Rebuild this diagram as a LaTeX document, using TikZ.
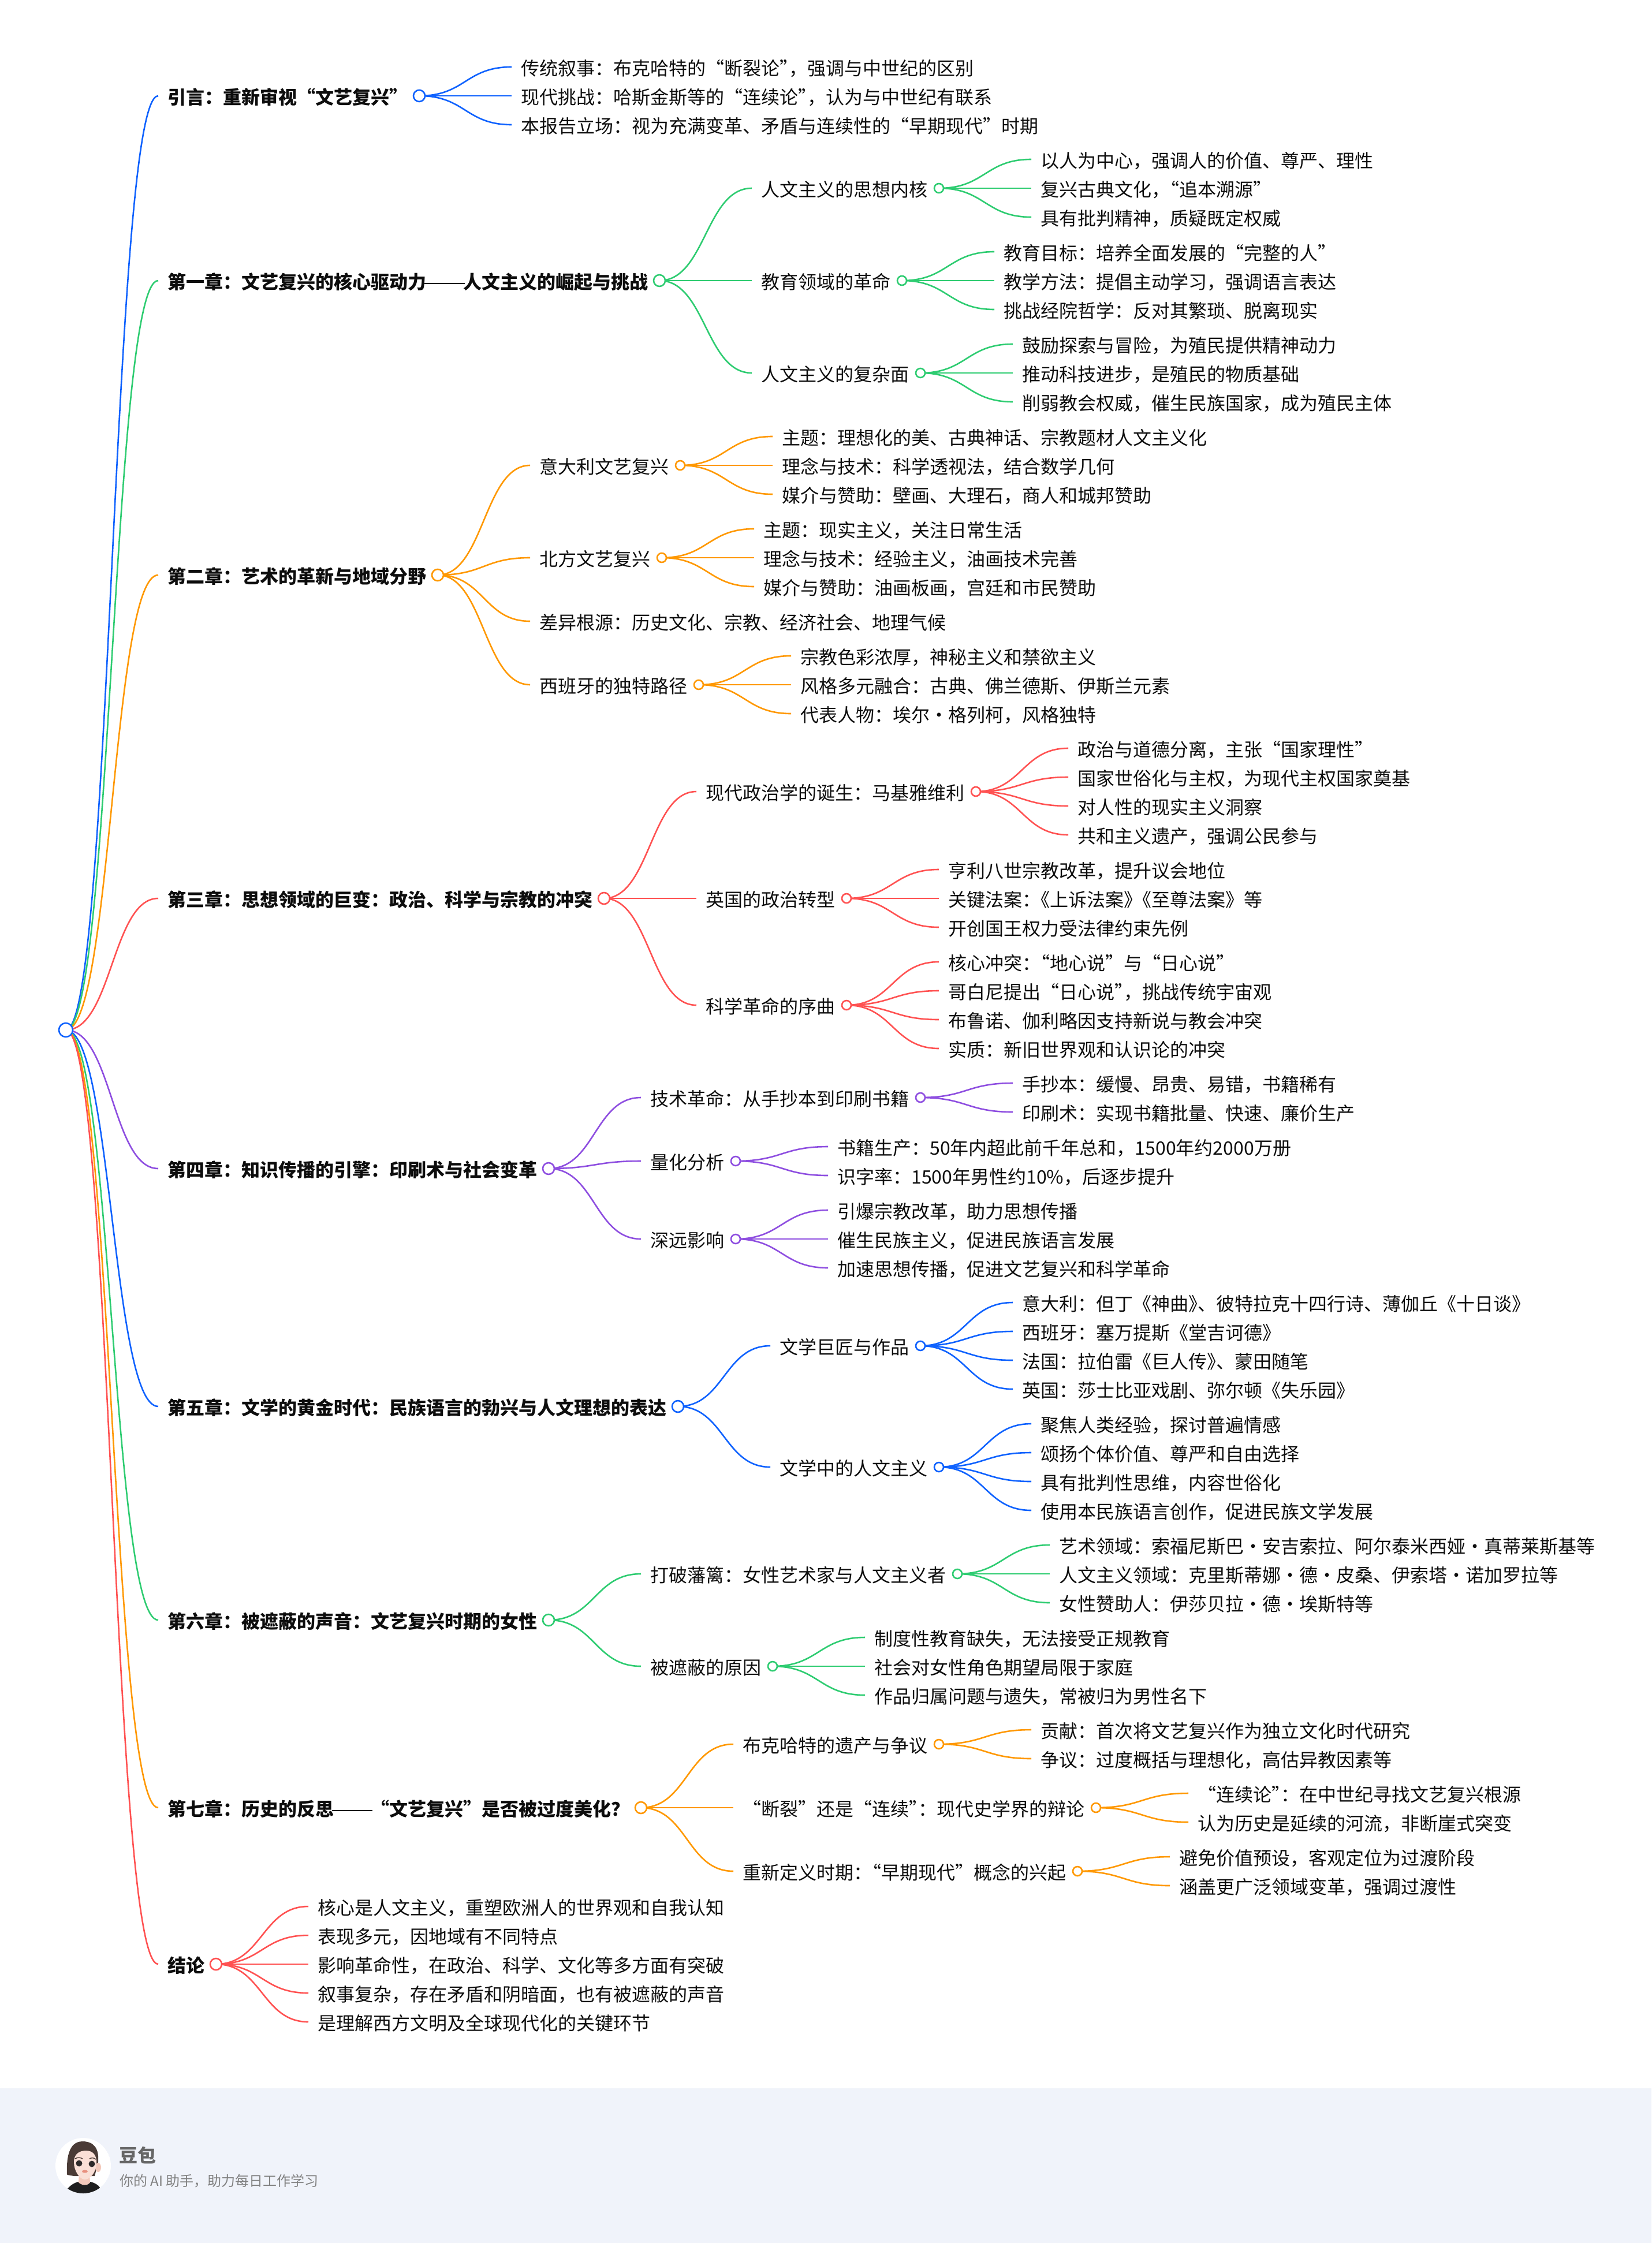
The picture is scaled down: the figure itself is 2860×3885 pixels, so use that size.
\documentclass[tikz,border=0pt]{standalone}
\usepackage{fontspec}
\setmainfont{Noto Sans CJK SC}
\usetikzlibrary{calc,backgrounds}
\definecolor{cblue}{HTML}{0F62FE}
\definecolor{cgreen}{HTML}{2ECC71}
\definecolor{corange}{HTML}{FF9800}
\definecolor{cred}{HTML}{FF5252}
\definecolor{cpurple}{HTML}{8E4EE0}
\definecolor{band}{HTML}{F0F3FA}
\definecolor{hairc}{HTML}{4A3B36}
\definecolor{neckc}{HTML}{F3C9BB}
\definecolor{facec}{HTML}{FADFD6}
\definecolor{eyec}{HTML}{2E2A2A}
\definecolor{lipc}{HTML}{E8907F}
\tikzset{
  base/.style={anchor=west,inner xsep=8pt,inner ysep=0pt,text height=14.4pt,text depth=0pt,text=black!95,font=\fontsize{16}{16}\selectfont},
  leaf/.style={base},
  chap/.style={base,font=\fontsize{16}{16}\selectfont\bfseries},
  linkline/.style={line width=1.3pt},
  dotc/.style={circle,draw,fill=white,line width=1.3pt,inner sep=0pt,minimum size=10pt},
  dots/.style={dotc,minimum size=8pt},
  dotr/.style={dotc,minimum size=12pt}
}
\newcommand{\jz}{\kern-0.5em }
\newcommand{\dian}{\makebox[1em][c]{·}}
\newcommand{\thindash}{\makebox[2em][c]{\mdseries\scalebox{1.38}[1]{——}}}
% colour, parent, name, x, y, style, text
\newcommand{\kid}[7]{\node[#6] (#3) at (#4,#5) {#7};
  \begin{pgfonlayer}{background}
  \draw[#1,linkline] let \p1=(#2.center),\p2=(#3.west),\p3=($(\p1)!0.5!(\p2)$) in (\p1) .. controls (\x3,\y1) and (\x3,\y2) .. (\p2);
  \end{pgfonlayer}}
\newcommand{\dotn}[5]{\node[#5,draw=#2] (#1) at (#3,#4) {};}
\begin{document}
\begin{tikzpicture}[x=0.5pt,y=-0.5pt]
\useasboundingbox (0,0) rectangle (2860,3885);
\fill[band] (0,3617) rectangle (2860,3885);
% avatar
\begin{scope}
\clip (144,3751) circle[radius=48];
\fill[white] (144,3751) circle[radius=48];
\fill[black!88] (116,3792) .. controls (122,3785) and (128,3781) .. (135,3779) -- (157,3779) .. controls (164,3781) and (170,3784) .. (173,3789) -- (173,3800) -- (116,3800) -- cycle;
\fill[hairc] (116,3766) .. controls (115,3740) and (118,3709) .. (143,3709) .. controls (163,3709) and (172,3722) .. (170,3745) -- (164,3769) -- (128,3769) -- (117,3767) -- cycle;
\fill[neckc] (170,3754) ellipse[x radius=5,y radius=8];
\fill[neckc] (137,3765) -- (155,3765) -- (156,3780) .. controls (152,3786) and (142,3786) .. (136,3780) -- cycle;
\fill[facec] (128,3745) .. controls (128,3732) and (136,3725) .. (149,3725) .. controls (161,3725) and (168,3733) .. (167,3747) .. controls (167,3762) and (156,3775) .. (147,3775) .. controls (138,3775) and (128,3760) .. (128,3745) -- cycle;
\draw[hairc,line width=0.7pt] (130,3739) .. controls (134,3736) and (140,3737) .. (143,3739);
\draw[hairc,line width=0.7pt] (155,3739) .. controls (158,3737) and (163,3737) .. (166,3740);
\fill[eyec] (137,3747) circle[radius=5.5];
\fill[eyec] (159,3748) circle[radius=5.5];
\fill[lipc] (147,3761) ellipse[x radius=5,y radius=2.5];
\end{scope}
\node[anchor=west,inner sep=0pt,text=black!60,text height=13.6pt,text depth=0pt,font=\fontsize{16}{16}\selectfont\bfseries] (brand) at (206,3732) {豆包};
\node[anchor=west,inner sep=0pt,text=black!50,text height=10pt,text depth=0pt,font=\fontsize{12}{12}\selectfont] (slogan) at (207,3776) {你的 AI 助手，助力每日工作学习};
% root
\node[dotr,draw=cblue] (r) at (114,1784) {};
% chapter 0
\kid{cblue}{r}{c0}{274}{166}{chap}{引言：重新审视“文艺复兴”}
\dotn{d0}{cblue}{726}{166}{dotc}
\kid{cblue}{d0}{a1}{886}{116}{leaf}{传统叙事：布克哈特的“断裂论”\jz，强调与中世纪的区别}
\kid{cblue}{d0}{a2}{886}{166}{leaf}{现代挑战：哈斯金斯等的“连续论”\jz，认为与中世纪有联系}
\kid{cblue}{d0}{a3}{886}{216}{leaf}{本报告立场：视为充满变革、矛盾与连续性的“早期现代”时期}
% chapter 1
\kid{cgreen}{r}{c1}{274}{486}{chap}{第一章：文艺复兴的核心驱动力\thindash 人文主义的崛起与挑战}
\dotn{d1}{cgreen}{1142}{486}{dotc}
\kid{cgreen}{d1}{s11}{1302}{326}{leaf}{人文主义的思想内核}
\dotn{e11}{cgreen}{1626}{326}{dots}
\kid{cgreen}{e11}{b1}{1786}{276}{leaf}{以人为中心，强调人的价值、尊严、理性}
\kid{cgreen}{e11}{b2}{1786}{326}{leaf}{复兴古典文化，\jz“追本溯源”}
\kid{cgreen}{e11}{b3}{1786}{376}{leaf}{具有批判精神，质疑既定权威}
\kid{cgreen}{d1}{s12}{1302}{486}{leaf}{教育领域的革命}
\dotn{e12}{cgreen}{1562}{486}{dots}
\kid{cgreen}{e12}{b4}{1722}{436}{leaf}{教育目标：培养全面发展的“完整的人”}
\kid{cgreen}{e12}{b5}{1722}{486}{leaf}{教学方法：提倡主动学习，强调语言表达}
\kid{cgreen}{e12}{b6}{1722}{536}{leaf}{挑战经院哲学：反对其繁琐、脱离现实}
\kid{cgreen}{d1}{s13}{1302}{646}{leaf}{人文主义的复杂面}
\dotn{e13}{cgreen}{1594}{646}{dots}
\kid{cgreen}{e13}{b7}{1754}{596}{leaf}{鼓励探索与冒险，为殖民提供精神动力}
\kid{cgreen}{e13}{b8}{1754}{646}{leaf}{推动科技进步，是殖民的物质基础}
\kid{cgreen}{e13}{b9}{1754}{696}{leaf}{削弱教会权威，催生民族国家，成为殖民主体}
% chapter 2
\kid{corange}{r}{c2}{274}{996}{chap}{第二章：艺术的革新与地域分野}
\dotn{d2}{corange}{758}{996}{dotc}
\kid{corange}{d2}{s21}{918}{806}{leaf}{意大利文艺复兴}
\dotn{e21}{corange}{1178}{806}{dots}
\kid{corange}{e21}{g1}{1338}{756}{leaf}{主题：理想化的美、古典神话、宗教题材人文主义化}
\kid{corange}{e21}{g2}{1338}{806}{leaf}{理念与技术：科学透视法，结合数学几何}
\kid{corange}{e21}{g3}{1338}{856}{leaf}{媒介与赞助：壁画、大理石，商人和城邦赞助}
\kid{corange}{d2}{s22}{918}{966}{leaf}{北方文艺复兴}
\dotn{e22}{corange}{1146}{966}{dots}
\kid{corange}{e22}{g4}{1306}{916}{leaf}{主题：现实主义，关注日常生活}
\kid{corange}{e22}{g5}{1306}{966}{leaf}{理念与技术：经验主义，油画技术完善}
\kid{corange}{e22}{g6}{1306}{1016}{leaf}{媒介与赞助：油画板画，宫廷和市民赞助}
\kid{corange}{d2}{s23}{918}{1076}{leaf}{差异根源：历史文化、宗教、经济社会、地理气候}
\kid{corange}{d2}{s24}{918}{1186}{leaf}{西班牙的独特路径}
\dotn{e24}{corange}{1210}{1186}{dots}
\kid{corange}{e24}{g7}{1370}{1136}{leaf}{宗教色彩浓厚，神秘主义和禁欲主义}
\kid{corange}{e24}{g8}{1370}{1186}{leaf}{风格多元融合：古典、佛兰德斯、伊斯兰元素}
\kid{corange}{e24}{g9}{1370}{1236}{leaf}{代表人物：埃尔\dian 格列柯，风格独特}
% chapter 3
\kid{cred}{r}{c3}{274}{1556}{chap}{第三章：思想领域的巨变：政治、科学与宗教的冲突}
\dotn{d3}{cred}{1046}{1556}{dotc}
\kid{cred}{d3}{s31}{1206}{1371}{leaf}{现代政治学的诞生：马基雅维利}
\dotn{e31}{cred}{1690}{1371}{dots}
\kid{cred}{e31}{h1}{1850}{1296}{leaf}{政治与道德分离，主张“国家理性”}
\kid{cred}{e31}{h2}{1850}{1346}{leaf}{国家世俗化与主权，为现代主权国家奠基}
\kid{cred}{e31}{h3}{1850}{1396}{leaf}{对人性的现实主义洞察}
\kid{cred}{e31}{h4}{1850}{1446}{leaf}{共和主义遗产，强调公民参与}
\kid{cred}{d3}{s32}{1206}{1556}{leaf}{英国的政治转型}
\dotn{e32}{cred}{1466}{1556}{dots}
\kid{cred}{e32}{h5}{1626}{1506}{leaf}{亨利八世宗教改革，提升议会地位}
\kid{cred}{e32}{h6}{1626}{1556}{leaf}{关键法案：\jz《上诉法案》\jz《至尊法案》等}
\kid{cred}{e32}{h7}{1626}{1606}{leaf}{开创国王权力受法律约束先例}
\kid{cred}{d3}{s33}{1206}{1741}{leaf}{科学革命的序曲}
\dotn{e33}{cred}{1466}{1741}{dots}
\kid{cred}{e33}{h8}{1626}{1666}{leaf}{核心冲突：\jz“地心说”与“日心说”}
\kid{cred}{e33}{h9}{1626}{1716}{leaf}{哥白尼提出“日心说”\jz，挑战传统宇宙观}
\kid{cred}{e33}{h10}{1626}{1766}{leaf}{布鲁诺、伽利略因支持新说与教会冲突}
\kid{cred}{e33}{h11}{1626}{1816}{leaf}{实质：新旧世界观和认识论的冲突}
% chapter 4
\kid{cpurple}{r}{c4}{274}{2024}{chap}{第四章：知识传播的引擎：印刷术与社会变革}
\dotn{d4}{cpurple}{950}{2024}{dotc}
\kid{cpurple}{d4}{s41}{1110}{1901}{leaf}{技术革命：从手抄本到印刷书籍}
\dotn{e41}{cpurple}{1594}{1901}{dots}
\kid{cpurple}{e41}{i1}{1754}{1876}{leaf}{手抄本：缓慢、昂贵、易错，书籍稀有}
\kid{cpurple}{e41}{i2}{1754}{1926}{leaf}{印刷术：实现书籍批量、快速、廉价生产}
\kid{cpurple}{d4}{s42}{1110}{2011}{leaf}{量化分析}
\dotn{e42}{cpurple}{1274}{2011}{dots}
\kid{cpurple}{e42}{i3}{1434}{1986}{leaf}{书籍生产：50年内超此前千年总和，1500年约2000万册}
\kid{cpurple}{e42}{i4}{1434}{2036}{leaf}{识字率：1500年男性约10\%，后逐步提升}
\kid{cpurple}{d4}{s43}{1110}{2146}{leaf}{深远影响}
\dotn{e43}{cpurple}{1274}{2146}{dots}
\kid{cpurple}{e43}{i5}{1434}{2096}{leaf}{引爆宗教改革，助力思想传播}
\kid{cpurple}{e43}{i6}{1434}{2146}{leaf}{催生民族主义，促进民族语言发展}
\kid{cpurple}{e43}{i7}{1434}{2196}{leaf}{加速思想传播，促进文艺复兴和科学革命}
% chapter 5
\kid{cblue}{r}{c5}{274}{2436}{chap}{第五章：文学的黄金时代：民族语言的勃兴与人文理想的表达}
\dotn{d5}{cblue}{1174}{2436}{dotc}
\kid{cblue}{d5}{s51}{1334}{2331}{leaf}{文学巨匠与作品}
\dotn{e51}{cblue}{1594}{2331}{dots}
\kid{cblue}{e51}{j1}{1754}{2256}{leaf}{意大利：但丁《神曲》\jz、彼特拉克十四行诗、薄伽丘《十日谈》}
\kid{cblue}{e51}{j2}{1754}{2306}{leaf}{西班牙：塞万提斯《堂吉诃德》}
\kid{cblue}{e51}{j3}{1754}{2356}{leaf}{法国：拉伯雷《巨人传》\jz、蒙田随笔}
\kid{cblue}{e51}{j4}{1754}{2406}{leaf}{英国：莎士比亚戏剧、弥尔顿《失乐园》}
\kid{cblue}{d5}{s52}{1334}{2541}{leaf}{文学中的人文主义}
\dotn{e52}{cblue}{1626}{2541}{dots}
\kid{cblue}{e52}{j5}{1786}{2466}{leaf}{聚焦人类经验，探讨普遍情感}
\kid{cblue}{e52}{j6}{1786}{2516}{leaf}{颂扬个体价值、尊严和自由选择}
\kid{cblue}{e52}{j7}{1786}{2566}{leaf}{具有批判性思维，内容世俗化}
\kid{cblue}{e52}{j8}{1786}{2616}{leaf}{使用本民族语言创作，促进民族文学发展}
% chapter 6
\kid{cgreen}{r}{c6}{274}{2806}{chap}{第六章：被遮蔽的声音：文艺复兴时期的女性}
\dotn{d6}{cgreen}{950}{2806}{dotc}
\kid{cgreen}{d6}{s61}{1110}{2726}{leaf}{打破藩篱：女性艺术家与人文主义者}
\dotn{e61}{cgreen}{1658}{2726}{dots}
\kid{cgreen}{e61}{k1}{1818}{2676}{leaf}{艺术领域：索福尼斯巴\dian 安吉索拉、阿尔泰米西娅\dian 真蒂莱斯基等}
\kid{cgreen}{e61}{k2}{1818}{2726}{leaf}{人文主义领域：克里斯蒂娜\dian 德\dian 皮桑、伊索塔\dian 诺加罗拉等}
\kid{cgreen}{e61}{k3}{1818}{2776}{leaf}{女性赞助人：伊莎贝拉\dian 德\dian 埃斯特等}
\kid{cgreen}{d6}{s62}{1110}{2886}{leaf}{被遮蔽的原因}
\dotn{e62}{cgreen}{1338}{2886}{dots}
\kid{cgreen}{e62}{k4}{1498}{2836}{leaf}{制度性教育缺失，无法接受正规教育}
\kid{cgreen}{e62}{k5}{1498}{2886}{leaf}{社会对女性角色期望局限于家庭}
\kid{cgreen}{e62}{k6}{1498}{2936}{leaf}{作品归属问题与遗失，常被归为男性名下}
% chapter 7
\kid{corange}{r}{c7}{274}{3131}{chap}{第七章：历史的反思\thindash “文艺复兴”是否被过度美化？}
\dotn{d7}{corange}{1110}{3131}{dotc}
\kid{corange}{d7}{s71}{1270}{3021}{leaf}{布克哈特的遗产与争议}
\dotn{e71}{corange}{1626}{3021}{dots}
\kid{corange}{e71}{m1}{1786}{2996}{leaf}{贡献：首次将文艺复兴作为独立文化时代研究}
\kid{corange}{e71}{m2}{1786}{3046}{leaf}{争议：过度概括与理想化，高估异教因素等}
\kid{corange}{d7}{s72}{1270}{3131}{leaf}{“断裂”还是“连续”\jz：现代史学界的辩论}
\dotn{e72}{corange}{1898}{3131}{dots}
\kid{corange}{e72}{m3}{2058}{3106}{leaf}{“连续论”\jz：在中世纪寻找文艺复兴根源}
\kid{corange}{e72}{m4}{2058}{3156}{leaf}{认为历史是延续的河流，非断崖式突变}
\kid{corange}{d7}{s73}{1270}{3241}{leaf}{重新定义时期：\jz“早期现代”概念的兴起}
\dotn{e73}{corange}{1866}{3241}{dots}
\kid{corange}{e73}{m5}{2026}{3216}{leaf}{避免价值预设，客观定位为过渡阶段}
\kid{corange}{e73}{m6}{2026}{3266}{leaf}{涵盖更广泛领域变革，强调过渡性}
% conclusion
\kid{cred}{r}{c8}{274}{3402}{chap}{结论}
\dotn{d8}{cred}{374}{3402}{dotc}
\kid{cred}{d8}{n1}{534}{3302}{leaf}{核心是人文主义，重塑欧洲人的世界观和自我认知}
\kid{cred}{d8}{n2}{534}{3352}{leaf}{表现多元，因地域有不同特点}
\kid{cred}{d8}{n3}{534}{3402}{leaf}{影响革命性，在政治、科学、文化等多方面有突破}
\kid{cred}{d8}{n4}{534}{3452}{leaf}{叙事复杂，存在矛盾和阴暗面，也有被遮蔽的声音}
\kid{cred}{d8}{n5}{534}{3502}{leaf}{是理解西方文明及全球现代化的关键环节}
\end{tikzpicture}
\end{document}
